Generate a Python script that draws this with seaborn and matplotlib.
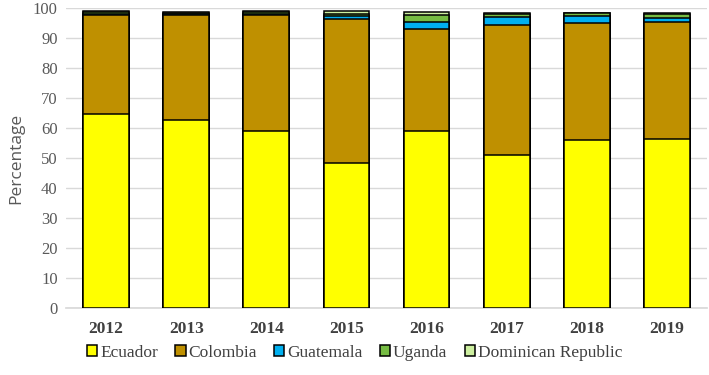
import matplotlib

matplotlib.use("Agg")
import matplotlib.pyplot as plt
import pandas as pd
import seaborn as sns
from matplotlib.patches import Patch

YEARS = ["2012", "2013", "2014", "2015", "2016", "2017", "2018", "2019"]
ECUADOR = [64.8, 62.8, 59.1, 48.4, 59.1, 51.1, 56.1, 56.3]
COLOMBIA = [33.1, 35.1, 38.8, 48.1, 33.9, 43.4, 39.1, 39.3]
GUATEMALA = [0.2, 0.2, 0.1, 0.8, 2.6, 2.7, 2.2, 1.3]
UGANDA = [0.6, 0.5, 0.9, 0.8, 2.3, 1.0, 0.9, 1.1]
DOMINICAN = [0.3, 0.1, 0.2, 0.9, 0.8, 0.3, 0.3, 0.3]

COUNTRIES = ["Ecuador", "Colombia", "Guatemala", "Uganda", "Dominican Republic"]
COLORS = ["#FFFF00", "#BF9000", "#00B0F0", "#76BC43", "#CDEFA0"]

df = pd.DataFrame(
    {
        "year": YEARS,
        "Ecuador": ECUADOR,
        "Colombia": COLOMBIA,
        "Guatemala": GUATEMALA,
        "Uganda": UGANDA,
        "Dominican Republic": DOMINICAN,
    }
)
cum = df[COUNTRIES].cumsum(axis=1)
cum["year"] = df["year"]

sns.set_theme(style="white")
plt.rcParams["font.family"] = ["Liberation Serif", "DejaVu Serif"]

fig = plt.figure(figsize=(7.09, 3.75), dpi=100)
ax = fig.add_axes([66 / 709, 1 - 308.3 / 375, 641 / 709, 300 / 375])

# stack by overdrawing cumulative totals, tallest first
for country, color in reversed(list(zip(COUNTRIES, COLORS))):
    sns.barplot(
        data=cum,
        x="year",
        y=country,
        color=color,
        edgecolor="black",
        linewidth=1.1,
        width=0.57,
        saturation=1,
        ax=ax,
        zorder=3,
    )

ax.set_ylim(0, 100)
ax.set_xlim(-0.5, 7.5)
ax.set_yticks(range(0, 101, 10))
ax.yaxis.grid(True, color="#D9D9D9", linewidth=1, zorder=0)
ax.set_axisbelow(True)
for side in ["top", "right", "left"]:
    ax.spines[side].set_visible(False)
ax.spines["bottom"].set_color("#D9D9D9")
ax.tick_params(axis="both", length=0)
ax.tick_params(axis="y", labelsize=12, labelcolor="#595959", pad=6)
ax.tick_params(axis="x", labelsize=12.5, pad=9)
for lbl in ax.get_xticklabels():
    lbl.set_fontweight("bold")
    lbl.set_color("#404040")

ax.set_xlabel("")
ax.set_ylabel("Percentage", fontsize=12.5, color="#595959",
              family=["Open Sans", "DejaVu Sans"], labelpad=6)

handles = [Patch(facecolor=c, edgecolor="black", linewidth=1.1, label=n)
           for n, c in zip(COUNTRIES, COLORS)]
fig.legend(
    handles=handles,
    loc="center",
    bbox_to_anchor=(0.5, 1 - 353 / 375),
    ncol=5,
    frameon=False,
    fontsize=12.5,
    handlelength=0.6,
    handleheight=0.6,
    handletextpad=0.15,
    columnspacing=1.0,
    labelcolor="#404040",
)

fig.savefig("out.png", dpi=100)
